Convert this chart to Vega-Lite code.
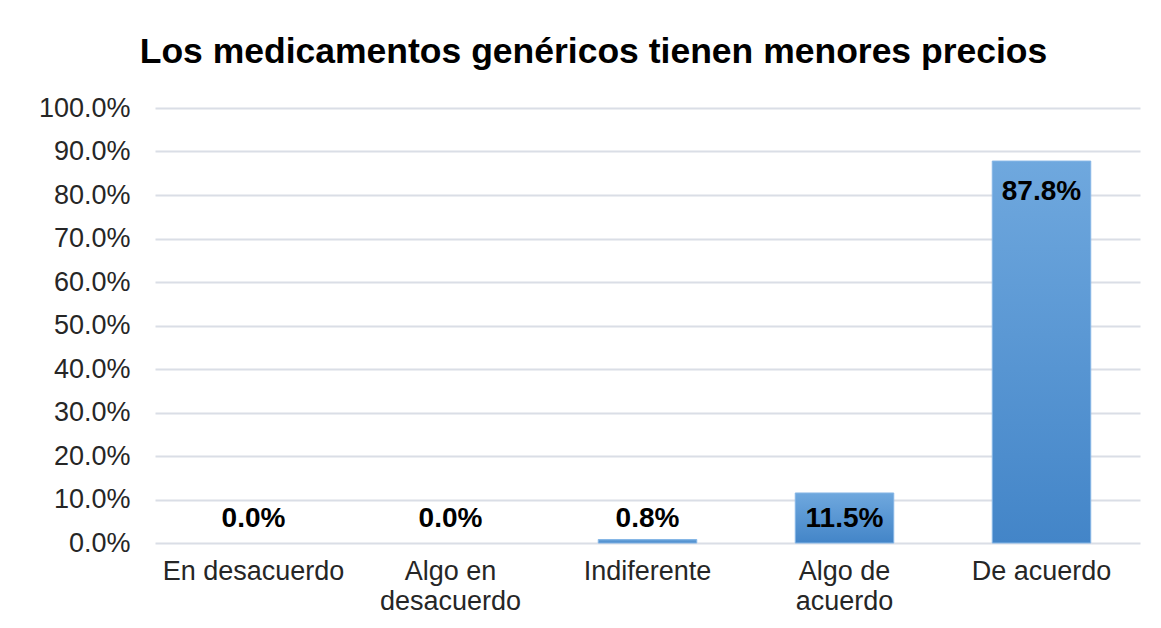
{
  "$schema": "https://vega.github.io/schema/vega-lite/v6.json",
  "width": 985,
  "height": 435,
  "autosize": "none",
  "padding": {"left": 155, "top": 108, "right": 21, "bottom": 85},
  "background": "white",
  "config": {
    "view": {"stroke": null},
    "font": "Liberation Sans"
  },
  "title": {
    "text": "Los medicamentos genéricos tienen menores precios",
    "font": "Liberation Sans",
    "fontSize": 35.5,
    "fontWeight": "bold",
    "color": "#000000",
    "anchor": "middle",
    "frame": "group",
    "dx": -54,
    "offset": 24
  },
  "data": {
    "values": [
      {"cat": "En desacuerdo", "value": 0.0, "label": "0.0%"},
      {"cat": "Algo en desacuerdo", "value": 0.0, "label": "0.0%"},
      {"cat": "Indiferente", "value": 0.8, "label": "0.8%"},
      {"cat": "Algo de acuerdo", "value": 11.5, "label": "11.5%"},
      {"cat": "De acuerdo", "value": 87.8, "label": "87.8%"}
    ]
  },
  "encoding": {
    "x": {
      "field": "cat",
      "type": "nominal",
      "sort": null,
      "scale": {"paddingInner": 0.5, "paddingOuter": 0.25},
      "axis": {
        "title": null,
        "labelAngle": 0,
        "domain": false,
        "ticks": false,
        "labelPadding": 15,
        "labelFontSize": 27,
        "labelFont": "Liberation Sans",
        "labelColor": "#262626",
        "labelLineHeight": 30,
        "labelLimit": 400,
        "labelOverlap": false,
        "labelExpr": "datum.label == 'Algo en desacuerdo' ? ['Algo en', 'desacuerdo'] : datum.label == 'Algo de acuerdo' ? ['Algo de', 'acuerdo'] : datum.label"
      }
    }
  },
  "layer": [
    {
      "mark": {
        "type": "bar",
        "stroke": "#86b6e6",
        "strokeWidth": 1,
        "color": {
          "gradient": "linear",
          "x1": 0, "y1": 0, "x2": 0, "y2": 1,
          "stops": [
            {"offset": 0, "color": "#6fa8de"},
            {"offset": 1, "color": "#4385c8"}
          ]
        }
      },
      "encoding": {
        "y": {
          "field": "value",
          "type": "quantitative",
          "scale": {"domain": [0, 100], "nice": false},
          "axis": {
            "title": null,
            "values": [0, 10, 20, 30, 40, 50, 60, 70, 80, 90, 100],
            "labelExpr": "format(datum.value, '.1f') + '%'",
            "domain": false,
            "ticks": false,
            "labelPadding": 25,
            "labelFontSize": 27,
            "labelFont": "Liberation Sans",
            "labelColor": "#262626",
            "labelLimit": 400,
            "gridColor": "#dadee6",
            "gridWidth": 2
          }
        },
        "strokeOpacity": {
          "condition": {"test": "datum.value > 0", "value": 1},
          "value": 0
        }
      }
    },
    {
      "transform": [{"filter": "datum.value > 50"}],
      "mark": {
        "type": "text",
        "baseline": "middle",
        "dy": 31,
        "font": "Liberation Sans",
        "fontSize": 28,
        "fontWeight": "bold",
        "color": "#000000"
      },
      "encoding": {
        "y": {"field": "value", "type": "quantitative"},
        "text": {"field": "label"}
      }
    },
    {
      "transform": [{"filter": "datum.value <= 50"}],
      "mark": {
        "type": "text",
        "baseline": "middle",
        "dy": -24,
        "font": "Liberation Sans",
        "fontSize": 28,
        "fontWeight": "bold",
        "color": "#000000"
      },
      "encoding": {
        "y": {"datum": 0, "type": "quantitative"},
        "text": {"field": "label"}
      }
    }
  ]
}
